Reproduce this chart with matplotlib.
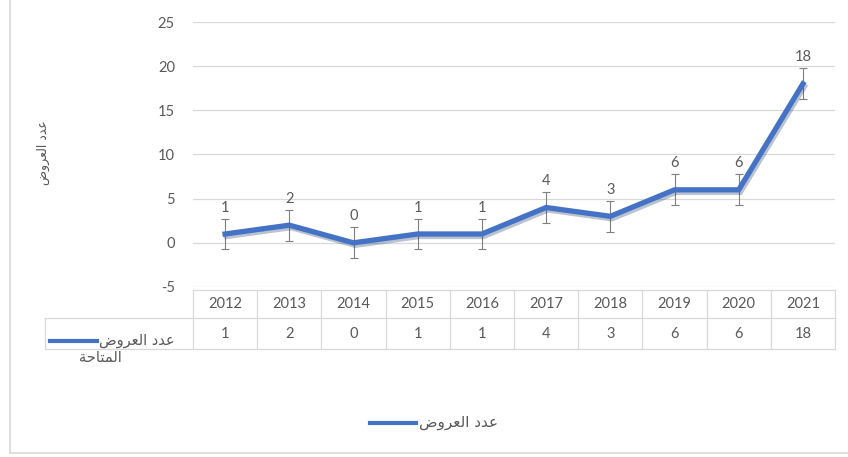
import matplotlib
matplotlib.use("Agg")
import matplotlib.pyplot as plt
import matplotlib.patheffects as pe
from matplotlib.lines import Line2D

# data
years = ["2012", "2013", "2014", "2015", "2016", "2017", "2018", "2019", "2020", "2021"]
offers = [1, 2, 0, 1, 1, 4, 3, 6, 6, 18]
err = [1.75, 1.75, 1.75, 1.75, 1.75, 1.75, 1.75, 1.75, 1.75, 1.75]

# Arabic text, written as presentation forms in visual order (no shaping in matplotlib)
label_main = "\uFEBD\uFEED\uFEAE\uFECC\uFEDF\uFE8D \uFEA9\uFEAA\uFECB"   # عدد العروض
label_second = "\uFE94\uFEA3\uFE8E\uFE98\uFEE4\uFEDF\uFE8D"            # المتاحة

blue = "#4472C4"
gray_txt = "#595959"
grid_c = "#D9D9D9"
fonts = ["Lato", "DejaVu Sans"]
plt.rcParams["font.family"] = fonts
plt.rcParams["axes.unicode_minus"] = False

W, H = 848, 457
fig = plt.figure(figsize=(W / 100, H / 100), dpi=100)

def fx(px):
    return px / W

def fy(py):
    return 1 - py / H

left, right, top, bottom = 193, 835, 22, 287
ax = fig.add_axes([fx(left), fy(bottom), fx(right - left), (bottom - top) / H])

x = list(range(len(years)))
ax.errorbar(x, offers, yerr=err, fmt="none", ecolor="#7F7F7F", elinewidth=0.8,
            capsize=3, capthick=0.8, zorder=3)
ax.plot(x, offers, color=blue, lw=3.8, solid_joinstyle="miter", zorder=4,
        path_effects=[pe.SimpleLineShadow(offset=(1.2, -1.8), alpha=0.3, shadow_color="#1F3864"),
                      pe.Normal()])
for xi, v in zip(x, offers):
    ax.annotate(str(v), (xi, v), xytext=(0, 19), textcoords="offset points",
                ha="center", va="center", fontsize=10.5, color=gray_txt)

ax.set_xlim(-0.5, len(years) - 0.5)
ax.set_ylim(-5, 25)
ax.set_yticks([-5, 0, 5, 10, 15, 20, 25])
ax.tick_params(axis="y", length=0, pad=13, labelsize=10.5, labelcolor=gray_txt)
ax.set_xticks([])
for s in ax.spines.values():
    s.set_visible(False)
ax.grid(axis="y", color=grid_c, lw=0.9)
ax.set_axisbelow(True)

ax.set_ylabel(label_main, fontsize=9, color=gray_txt, family=["DejaVu Sans"],
              labelpad=0)
ax.yaxis.set_label_coords(fx(50 - left) / fx(right - left), (bottom - 153) / (bottom - top))

# data table below the plot
row_top, row_mid, row_bot = 290, 318, 349
for py in (row_top, row_mid, row_bot):
    x0 = left if py == row_top else 45
    fig.add_artist(Line2D([fx(x0), fx(right)], [fy(py), fy(py)], color=grid_c, lw=0.9))
col_w = (right - left) / len(years)
for i in range(len(years) + 1):
    px = left + i * col_w
    fig.add_artist(Line2D([fx(px), fx(px)], [fy(row_top), fy(row_bot)], color=grid_c, lw=0.9))
fig.add_artist(Line2D([fx(45), fx(45)], [fy(row_mid), fy(row_bot)], color=grid_c, lw=0.9))
for i, (yr, v) in enumerate(zip(years, offers)):
    cx = fx(left + (i + 0.5) * col_w)
    fig.text(cx, fy((row_top + row_mid) / 2), yr, ha="center", va="center",
             fontsize=10.5, color=gray_txt)
    fig.text(cx, fy((row_mid + row_bot) / 2), str(v), ha="center", va="center",
             fontsize=10.5, color=gray_txt)

# row label with legend key
fig.add_artist(Line2D([fx(50), fx(97)], [fy(341), fy(341)], color=blue, lw=3))
fig.text(fx(99), fy(340), label_main, ha="left", va="center", fontsize=10.5,
         color=gray_txt, family=["DejaVu Sans"])
fig.text(fx(100), fy(358), label_second, ha="center", va="center", fontsize=10.5,
         color=gray_txt, family=["DejaVu Sans"])

# legend at the bottom
fig.add_artist(Line2D([fx(370), fx(416)], [fy(423), fy(423)], color=blue, lw=3))
fig.text(fx(419), fy(422), label_main, ha="left", va="center", fontsize=11,
         color=gray_txt, family=["DejaVu Sans"])

# chart border (left and bottom visible)
fig.add_artist(Line2D([fx(10), fx(10)], [fy(0), fy(453)], color=grid_c, lw=1.2))
fig.add_artist(Line2D([fx(10), fx(848)], [fy(453), fy(453)], color=grid_c, lw=1.2))

fig.savefig("out.png", dpi=100)
